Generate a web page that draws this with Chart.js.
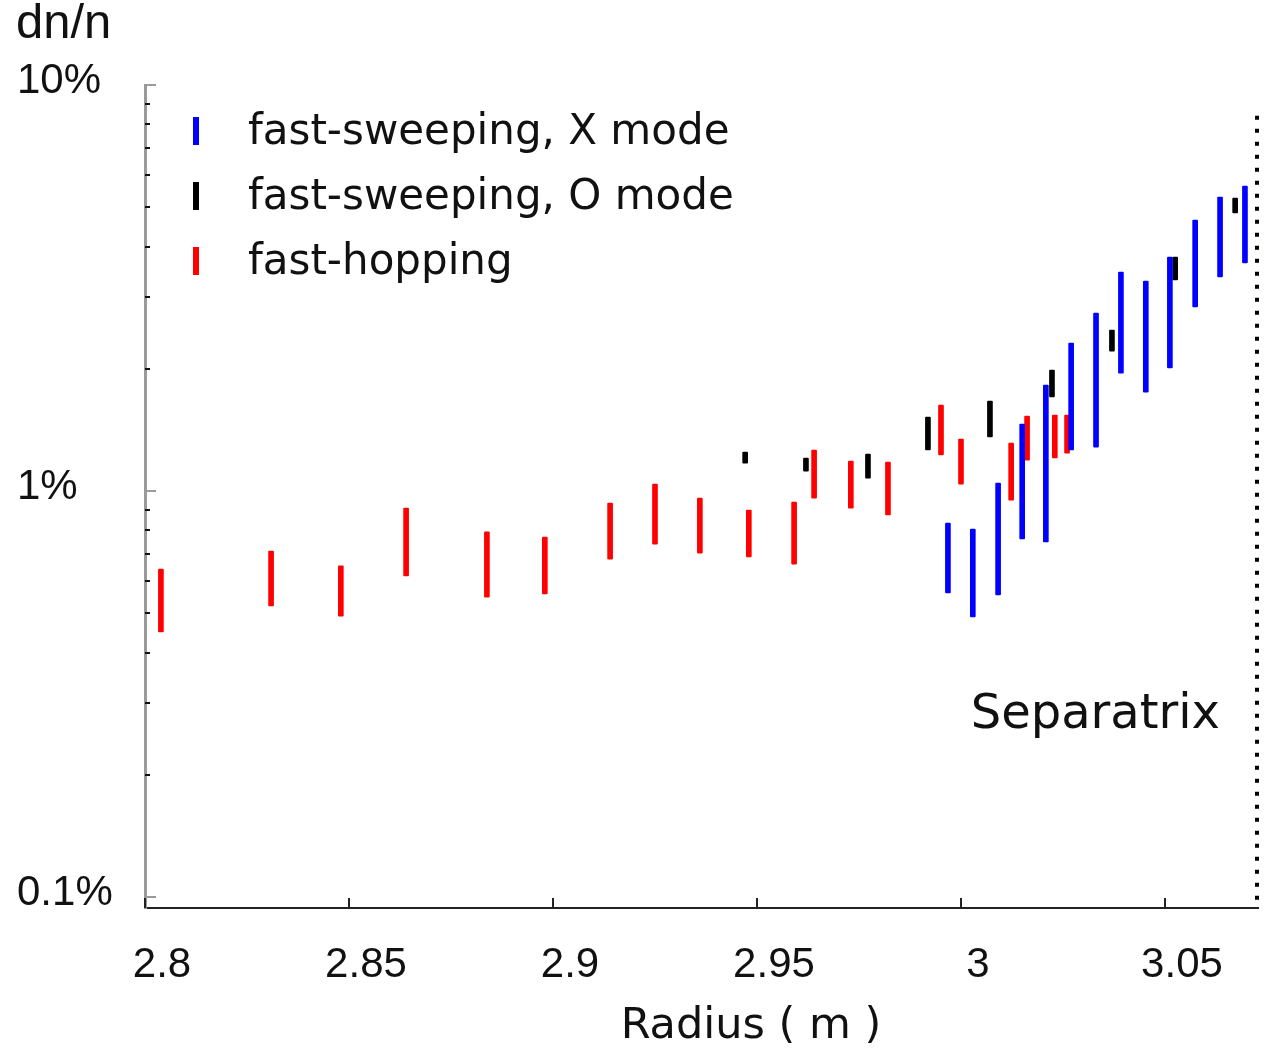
<!DOCTYPE html>
<html>
<head>
    <title>dn/n versus radius</title>
    <style>
        body {
            margin: 0;
            padding: 0;
            background-color: #fff;
        }

        #chart-container {
            width: 1270px;
            height: 1055px;
        }
    </style>
</head>
<body>
    <div id="chart-container">
        <canvas id="dn-chart"></canvas>
    </div>

    <script src="https://cdn.jsdelivr.net/npm/chart.js"></script>
    <script>
        // fast-sweeping, X mode (radius in m, dn/n range in %)
        const xModeR  = [2.9968, 3.0029, 3.0091, 3.0150, 3.0208, 3.0270, 3.0331, 3.0392, 3.0453, 3.0512, 3.0574, 3.0635, 3.0696];
        const xModeLo = [0.561, 0.490, 0.555, 0.762, 0.749, 1.262, 1.283, 1.952, 1.753, 2.009, 2.840, 3.367, 3.646];
        const xModeHi = [0.834, 0.806, 1.046, 1.462, 1.824, 2.315, 2.744, 3.462, 3.289, 3.770, 4.648, 5.300, 5.640];

        // fast-sweeping, O mode
        const oModeR  = [2.9471, 2.9620, 2.9772, 2.9919, 3.0071, 3.0223, 3.0370, 3.0525, 3.0672];
        const oModeLo = [1.172, 1.120, 1.076, 1.262, 1.359, 1.705, 2.212, 3.311, 4.840];
        const oModeHi = [1.247, 1.206, 1.233, 1.521, 1.666, 1.986, 2.493, 3.770, 5.270];

        // fast-hopping
        const hopR  = [2.8039, 2.8309, 2.8480, 2.8640, 2.8838, 2.8980, 2.9140, 2.9250, 2.9360, 2.9480,
                       2.9591, 2.9640, 2.9730, 2.9821, 2.9951, 3.0000, 3.0123, 3.0162, 3.0230, 3.0260];
        const hopLo = [0.450, 0.521, 0.492, 0.618, 0.548, 0.558, 0.680, 0.740, 0.703, 0.688,
                       0.661, 0.961, 0.908, 0.873, 1.227, 1.040, 0.950, 1.192, 1.206, 1.240];
        const hopHi = [0.642, 0.711, 0.654, 0.908, 0.793, 0.770, 0.934, 1.040, 0.961, 0.898,
                       0.940, 1.262, 1.186, 1.179, 1.629, 1.343, 1.313, 1.530, 1.538, 1.538];

        // axes
        const xTicks = [2.8, 2.85, 2.9, 2.95, 3.0, 3.05];
        const xTickLabels = ['2.8', '2.85', '2.9', '2.95', '3', '3.05'];
        const yTicks = [0.1, 0.2, 0.3, 0.4, 0.5, 0.6, 0.7, 0.8, 0.9,
                        1, 2, 3, 4, 5, 6, 7, 8, 9, 10];
        const yTickLabels = ['0.1%', '', '', '', '', '', '', '', '',
                             '1%', '', '', '', '', '', '', '', '', '10%'];
        const separatrixR = 3.0728;
        const separatrixTop = 8.4;

        const toBars = (r, lo, hi) => r.map((x, i) => ({ x: x, y: [lo[i], hi[i]] }));

        // ticks inside the frame, legend, separatrix and free texts
        const decorPlugin = {
            id: 'decor',
            afterDraw(chart) {
                const ctx = chart.ctx;
                const xs = chart.scales.x;
                const ys = chart.scales.y;
                const area = chart.chartArea;
                ctx.save();

                // x ticks pointing up
                ctx.strokeStyle = '#222';
                ctx.lineWidth = 2;
                xTicks.forEach(v => {
                    const px = Math.round(xs.getPixelForValue(v));
                    ctx.beginPath();
                    ctx.moveTo(px, area.bottom);
                    ctx.lineTo(px, area.bottom - 10);
                    ctx.stroke();
                });

                // y ticks pointing right
                yTicks.forEach((v, i) => {
                    const py = Math.round(ys.getPixelForValue(v));
                    const major = yTickLabels[i] !== '';
                    ctx.strokeStyle = major ? '#9a9a9a' : '#111';
                    ctx.lineWidth = 2;
                    ctx.beginPath();
                    ctx.moveTo(area.left, py);
                    ctx.lineTo(area.left + (major ? 11 : 5), py);
                    ctx.stroke();
                });

                // separatrix
                const sx = xs.getPixelForValue(separatrixR) - 1;
                ctx.strokeStyle = '#000';
                ctx.lineWidth = 4;
                ctx.setLineDash([4, 9]);
                ctx.beginPath();
                ctx.moveTo(sx, ys.getPixelForValue(separatrixTop));
                ctx.lineTo(sx, area.bottom);
                ctx.stroke();
                ctx.setLineDash([]);

                ctx.fillStyle = '#111';
                ctx.font = '48px "DejaVu Sans"';
                ctx.textAlign = 'right';
                ctx.textBaseline = 'alphabetic';
                ctx.fillText('Separatrix', 1220, 728);

                // legend
                ctx.textAlign = 'left';
                ctx.textBaseline = 'middle';
                ctx.font = '42px "DejaVu Sans"';
                chart.data.datasets.forEach((ds, i) => {
                    const cy = 131 + 65 * i;
                    ctx.fillStyle = ds.backgroundColor;
                    ctx.fillRect(193, cy - 14, 6, 28);
                    ctx.fillStyle = '#111';
                    ctx.fillText(ds.label, 248, cy + 2);
                });

                // axis titles
                ctx.font = '49px "Liberation Sans"';
                ctx.fillText('dn/n', 16, 24);
                ctx.textAlign = 'center';
                ctx.font = '43px "DejaVu Sans"';
                ctx.fillText('Radius ( m )', 751, 1027);

                ctx.restore();
            }
        };

        const ctx = document.getElementById('dn-chart').getContext('2d');
        const chart = new Chart(ctx, {
            type: 'bar',
            data: {
                datasets: [
                    { label: 'fast-sweeping, X mode', data: toBars(xModeR, xModeLo, xModeHi), backgroundColor: '#0000ff' },
                    { label: 'fast-sweeping, O mode', data: toBars(oModeR, oModeLo, oModeHi), backgroundColor: '#000000' },
                    { label: 'fast-hopping', data: toBars(hopR, hopLo, hopHi), backgroundColor: '#ff0000' }
                ]
            },
            options: {
                responsive: true,
                maintainAspectRatio: false,
                animation: false,
                datasets: {
                    bar: {
                        barThickness: 5,
                        grouped: false,
                        borderSkipped: false,
                        borderRadius: 1
                    }
                },
                layout: {
                    padding: { left: 17, top: 85, right: 12, bottom: 0 }
                },
                plugins: {
                    legend: { display: false },
                    tooltip: { enabled: false }
                },
                scales: {
                    x: {
                        type: 'linear',
                        offset: false,
                        min: 2.8,
                        max: separatrixR,
                        afterBuildTicks: s => { s.ticks = xTicks.map(v => ({ value: v })); },
                        afterFit: s => { s.height = 147; },
                        grid: { offset: false, drawOnChartArea: false, drawTicks: false },
                        border: { display: true, color: '#222', width: 2 },
                        ticks: {
                            autoSkip: false,
                            maxRotation: 0,
                            padding: 32,
                            labelOffset: 17,
                            color: '#111',
                            font: { family: 'Liberation Sans', size: 42 },
                            callback: (v, i) => xTickLabels[i]
                        }
                    },
                    y: {
                        type: 'logarithmic',
                        min: 0.094,
                        max: 10,
                        afterBuildTicks: s => { s.ticks = yTicks.map(v => ({ value: v })); },
                        afterFit: s => { s.width = 128; },
                        grid: { drawOnChartArea: false, drawTicks: false },
                        border: { display: true, color: '#9a9a9a', width: 3 },
                        ticks: {
                            autoSkip: false,
                            crossAlign: 'far',
                            labelOffset: -4,
                            color: '#111',
                            font: { family: 'Liberation Sans', size: 42 },
                            callback: (v, i) => yTickLabels[i]
                        }
                    }
                }
            },
            plugins: [decorPlugin]
        });
    </script>
</body>
</html>
